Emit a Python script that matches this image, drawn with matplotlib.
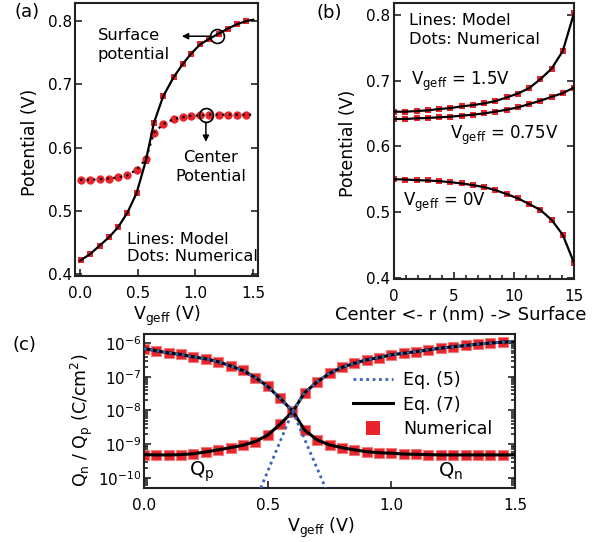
import matplotlib
matplotlib.use('Agg')
import matplotlib.pyplot as plt
from matplotlib.lines import Line2D
from matplotlib.ticker import MultipleLocator, FixedLocator, NullFormatter

plt.rcParams['font.family'] = ['DejaVu Sans']
plt.rcParams['mathtext.default'] = 'regular'

# ---------------- data ----------------
# (a) potential vs gate voltage
a_v = [0.01, 0.09, 0.17, 0.25, 0.33, 0.41, 0.49, 0.57, 0.64, 0.72,
       0.81, 0.89, 0.96, 1.04, 1.12, 1.20, 1.28, 1.36, 1.44]
a_surface = [0.422, 0.432, 0.445, 0.458, 0.474, 0.497, 0.528, 0.579, 0.639, 0.681,
             0.711, 0.732, 0.748, 0.763, 0.772, 0.780, 0.788, 0.795, 0.800]
a_center = [0.549, 0.549, 0.550, 0.551, 0.553, 0.556, 0.565, 0.582, 0.623, 0.637,
            0.645, 0.648, 0.650, 0.651, 0.652, 0.652, 0.652, 0.652, 0.652]
a_model_v = [0.0, 0.09, 0.17, 0.25, 0.33, 0.41, 0.49, 0.57, 0.64, 0.72,
             0.81, 0.89, 0.96, 1.04, 1.12, 1.20, 1.28, 1.36, 1.44, 1.50]
a_model_surface = [0.421, 0.432, 0.445, 0.458, 0.474, 0.497, 0.528, 0.579, 0.639, 0.681,
                   0.711, 0.732, 0.748, 0.763, 0.772, 0.780, 0.788, 0.795, 0.800, 0.802]
a_model_center = [0.549, 0.549, 0.550, 0.551, 0.553, 0.556, 0.565, 0.582, 0.623, 0.637,
                  0.645, 0.648, 0.650, 0.651, 0.652, 0.652, 0.652, 0.652, 0.652, 0.652]

# (b) potential vs radius
b_r = [0.0, 0.94, 1.88, 2.81, 3.75, 4.69, 5.63, 6.56, 7.5, 8.44,
       9.38, 10.31, 11.25, 12.19, 13.13, 14.06, 15.0]
b_v150 = [0.6526, 0.6526, 0.6536, 0.6546, 0.6566, 0.6581, 0.6606, 0.6626, 0.6652, 0.6687,
          0.6742, 0.6802, 0.6883, 0.7019, 0.7180, 0.7447, 0.8025]
b_v075 = [0.6415, 0.6415, 0.6425, 0.6430, 0.6440, 0.6450, 0.6465, 0.6480, 0.6500, 0.6526,
          0.6556, 0.6591, 0.6641, 0.6692, 0.6752, 0.6808, 0.6893]
b_v000 = [0.5499, 0.5494, 0.5484, 0.5479, 0.5469, 0.5454, 0.5434, 0.5409, 0.5379, 0.5333,
          0.5273, 0.5208, 0.5122, 0.5032, 0.4881, 0.4654, 0.4226]

# (c) charge densities vs gate voltage
c_v = [0.00, 0.05, 0.10, 0.15, 0.20, 0.25, 0.30, 0.35, 0.40, 0.45,
       0.50, 0.55, 0.60, 0.65, 0.70, 0.75, 0.80, 0.85, 0.90, 0.95,
       1.00, 1.05, 1.10, 1.15, 1.20, 1.25, 1.30, 1.35, 1.40, 1.45]
c_fall = [6.9e-7, 5.9e-7, 5.1e-7, 4.6e-7, 3.9e-7, 3.4e-7, 2.8e-7, 2.1e-7, 1.55e-7, 9.5e-8,
          5.2e-8, 2.3e-8, 9.8e-9, 2.6e-9, 1.35e-9, 9.5e-10, 7.9e-10, 6.8e-10, 6.0e-10, 5.6e-10,
          5.4e-10, 5.1e-10, 5.0e-10, 4.9e-10, 4.8e-10, 4.8e-10, 4.8e-10, 4.8e-10, 4.8e-10, 4.8e-10]
c_rise = [4.9e-10, 4.8e-10, 4.8e-10, 4.9e-10, 5.2e-10, 5.9e-10, 6.8e-10, 7.9e-10, 9.3e-10, 1.2e-9,
          1.86e-9, 3.9e-9, 9.1e-9, 3.4e-8, 7.1e-8, 1.26e-7, 1.9e-7, 2.5e-7, 3.2e-7, 3.7e-7,
          4.5e-7, 5.0e-7, 5.6e-7, 6.3e-7, 7.1e-7, 7.8e-7, 8.5e-7, 9.3e-7, 1.0e-6, 1.07e-6]
eq7_v = c_v + [1.50]
eq7_fall = c_fall + [4.8e-10]
eq7_rise = c_rise + [1.1e-6]
eq5_fall_v = c_v[:13] + [0.734]
eq5_fall = c_fall[:13] + [5.0e-11]
eq5_rise_v = [0.472] + c_v[12:] + [1.50]
eq5_rise = [5.0e-11] + c_rise[12:] + [1.1e-6]
c_yticks = [1e-10, 1e-9, 1e-8, 1e-7, 1e-6]
c_yticklabels = ['$10^{-10}$', '$10^{-9}$', '$10^{-8}$', '$10^{-7}$', '$10^{-6}$']

# ---------------- style ----------------
RED = '#e8232b'
BLUE = '#3b62b5'
SPINE = '#222222'
W, H = 611, 542


def box(l, t, r, b):
    return [l / W, 1 - b / H, (r - l) / W, (b - t) / H]


fig = plt.figure(figsize=(W / 100, H / 100), dpi=100)
ax_a = fig.add_axes(box(75, 3, 258, 276))
ax_b = fig.add_axes(box(394, 3, 574, 279))
ax_c = fig.add_axes(box(144, 334, 515, 488))

for ax in (ax_a, ax_b, ax_c):
    for s in ax.spines.values():
        s.set_linewidth(1.5)
        s.set_color(SPINE)
    ax.tick_params(which='both', direction='in', left=True, right=True, top=False,
                   bottom=True, width=1.2, color=SPINE, labelsize=11)
    ax.tick_params(which='major', length=5)
    ax.tick_params(which='minor', length=3)

# ---------------- (a) ----------------
ax_a.plot(a_v, a_surface, 's', color=RED, ms=5, mew=0, zorder=2)
ax_a.plot(a_v, a_center, 'o', color=RED, ms=6, mew=0, zorder=2)
ax_a.plot(a_model_v, a_model_surface, '-', color='k', lw=1.6, zorder=3)
ax_a.plot(a_model_v, a_model_center, color='k', lw=1.6, ls=(0, (1, 2)), zorder=3)
ax_a.set_xlim(-0.043, 1.541)
ax_a.set_ylim(0.397, 0.8285)
ax_a.xaxis.set_major_locator(FixedLocator([0.0, 0.5, 1.0, 1.5]))
ax_a.set_xticklabels(['0.0', '0.5', '1.0', '1.5'])
ax_a.yaxis.set_major_locator(FixedLocator([0.4, 0.5, 0.6, 0.7, 0.8]))
ax_a.set_yticklabels(['0.4', '0.5', '0.6', '0.7', '0.8'])
ax_a.tick_params(axis='x', pad=7)
ax_a.tick_params(axis='y', pad=2)
ax_a.set_ylabel('Potential (V)', fontsize=12.5, va='center')
ax_a.yaxis.set_label_coords(-0.246, 0.49)
ax_a.set_xlabel('$V_{geff}$ (V)', fontsize=12.5, va='baseline')
ax_a.xaxis.set_label_coords(0.5, -0.161)

ax_a.plot([1.19], [0.777], 'o', mfc='none', mec='k', ms=10, mew=1.2, zorder=4)
ax_a.plot([1.09], [0.651], 'o', mfc='none', mec='k', ms=10, mew=1.2, zorder=4)
ax_a.annotate('', xy=(0.882, 0.776), xytext=(1.133, 0.776),
              arrowprops=dict(arrowstyle='-|>', color='k', lw=1.1, mutation_scale=9,
                              shrinkA=0, shrinkB=0))
ax_a.annotate('', xy=(1.09, 0.609), xytext=(1.09, 0.640),
              arrowprops=dict(arrowstyle='-|>', color='k', lw=1.1, mutation_scale=9,
                              shrinkA=0, shrinkB=0))
ax_a.text(0.156, 0.762, 'Surface\npotential', fontsize=11.7, ha='left', va='center',
          linespacing=1.4)
ax_a.text(1.133, 0.569, 'Center\nPotential', fontsize=11.7, ha='center', va='center',
          linespacing=1.3)
ax_a.text(0.407, 0.441, 'Lines: Model\nDots: Numerical', fontsize=11.7, ha='left',
          va='center', linespacing=1.2)

# ---------------- (b) ----------------
for ys in (b_v150, b_v075, b_v000):
    ax_b.plot(b_r, ys, 's', color=RED, ms=4.8, mew=0, zorder=2)
    ax_b.plot(b_r, ys, '-', color='k', lw=1.6, zorder=3)
ax_b.set_xlim(0, 15)
ax_b.set_ylim(0.398, 0.818)
ax_b.xaxis.set_major_locator(FixedLocator([0, 5, 10, 15]))
ax_b.xaxis.set_minor_locator(MultipleLocator(1))
ax_b.yaxis.set_major_locator(FixedLocator([0.4, 0.5, 0.6, 0.7, 0.8]))
ax_b.set_yticklabels(['0.4', '0.5', '0.6', '0.7', '0.8'])
ax_b.tick_params(axis='x', pad=7)
ax_b.tick_params(axis='y', pad=3)
ax_b.set_ylabel('Potential (V)', fontsize=12.5, va='center')
ax_b.yaxis.set_label_coords(-0.253, 0.49)
ax_b.set_xlabel('Center <- r (nm) -> Surface', fontsize=13, va='baseline', ha='left')
ax_b.xaxis.set_label_coords(-0.328, -0.149)
ax_b.text(1.25, 0.7766, 'Lines: Model\nDots: Numerical', fontsize=11.7, ha='left',
          va='center', linespacing=1.35)
ax_b.text(1.42, 0.693, '$V_{geff}$ = 1.5V', fontsize=12, ha='left', va='baseline')
ax_b.text(4.67, 0.6113, '$V_{geff}$ = 0.75V', fontsize=12, ha='left', va='baseline')
ax_b.text(0.75, 0.5097, '$V_{geff}$ = 0V', fontsize=12, ha='left', va='baseline')

# ---------------- (c) ----------------
ax_c.set_yscale('log')
ax_c.plot(c_v, c_fall, 's', color=RED, ms=6.5, mec='#f27c7c', mew=0.8, zorder=2)
ax_c.plot(c_v, c_rise, 's', color=RED, ms=6.5, mec='#f27c7c', mew=0.8, zorder=2)
ax_c.plot(eq7_v, eq7_fall, '-', color='k', lw=2.2, zorder=3)
ax_c.plot(eq7_v, eq7_rise, '-', color='k', lw=2.2, zorder=3)
ax_c.plot(eq5_fall_v, eq5_fall, color=BLUE, lw=2.0, ls=(0, (1, 1.3)), zorder=4)
ax_c.plot(eq5_rise_v, eq5_rise, color=BLUE, lw=2.0, ls=(0, (1, 1.3)), zorder=4)
ax_c.set_xlim(0, 1.5)
ymin, ymax = 10 ** -10.3, 10 ** -5.73
ax_c.set_ylim(ymin, ymax)
ax_c.xaxis.set_major_locator(FixedLocator([0.0, 0.5, 1.0, 1.5]))
ax_c.set_xticklabels(['0.0', '0.5', '1.0', '1.5'])
ax_c.yaxis.set_major_locator(FixedLocator(c_yticks))
ax_c.set_yticklabels(c_yticklabels)
minor = [m * d for d in [1e-11] + c_yticks for m in range(2, 10)]
ax_c.yaxis.set_minor_locator(FixedLocator([t for t in minor if ymin <= t <= ymax]))
ax_c.yaxis.set_minor_formatter(NullFormatter())
ax_c.tick_params(axis='x', pad=7)
ax_c.tick_params(axis='y', pad=2)
ax_c.set_ylabel('$Q_n$ / $Q_p$ (C/cm$^2$)', fontsize=12.5, va='center')
ax_c.yaxis.set_label_coords(-0.167, 0.44)
ax_c.set_xlabel('$V_{geff}$ (V)', fontsize=12.5, va='baseline')
ax_c.xaxis.set_label_coords(0.476, -0.285)
ax_c.text(0.18, 10 ** -9.82, '$Q_p$', fontsize=14, ha='left', va='center')
ax_c.text(1.19, 10 ** -9.82, '$Q_n$', fontsize=14, ha='left', va='center')

handles = [Line2D([], [], color=BLUE, lw=2.0, ls=(0, (1, 1.3))),
           Line2D([], [], color='k', lw=2.2),
           Line2D([], [], marker='s', ls='none', color=RED, ms=10, mew=0)]
ax_c.legend(handles, ['Eq. (5)', 'Eq. (7)', 'Numerical'], loc='upper left',
            bbox_to_anchor=(0.563, 0.76), frameon=False, fontsize=12.5,
            handlelength=2.3, handletextpad=0.6, labelspacing=0.38,
            borderpad=0, borderaxespad=0)

# panel labels
fig.text(14 / W, 1 - 12 / H, '(a)', fontsize=13, ha='left', va='center')
fig.text(316 / W, 1 - 13 / H, '(b)', fontsize=13, ha='left', va='center')
fig.text(13 / W, 1 - 345 / H, '(c)', fontsize=13, ha='left', va='center')

fig.savefig('out.png', dpi=100)
